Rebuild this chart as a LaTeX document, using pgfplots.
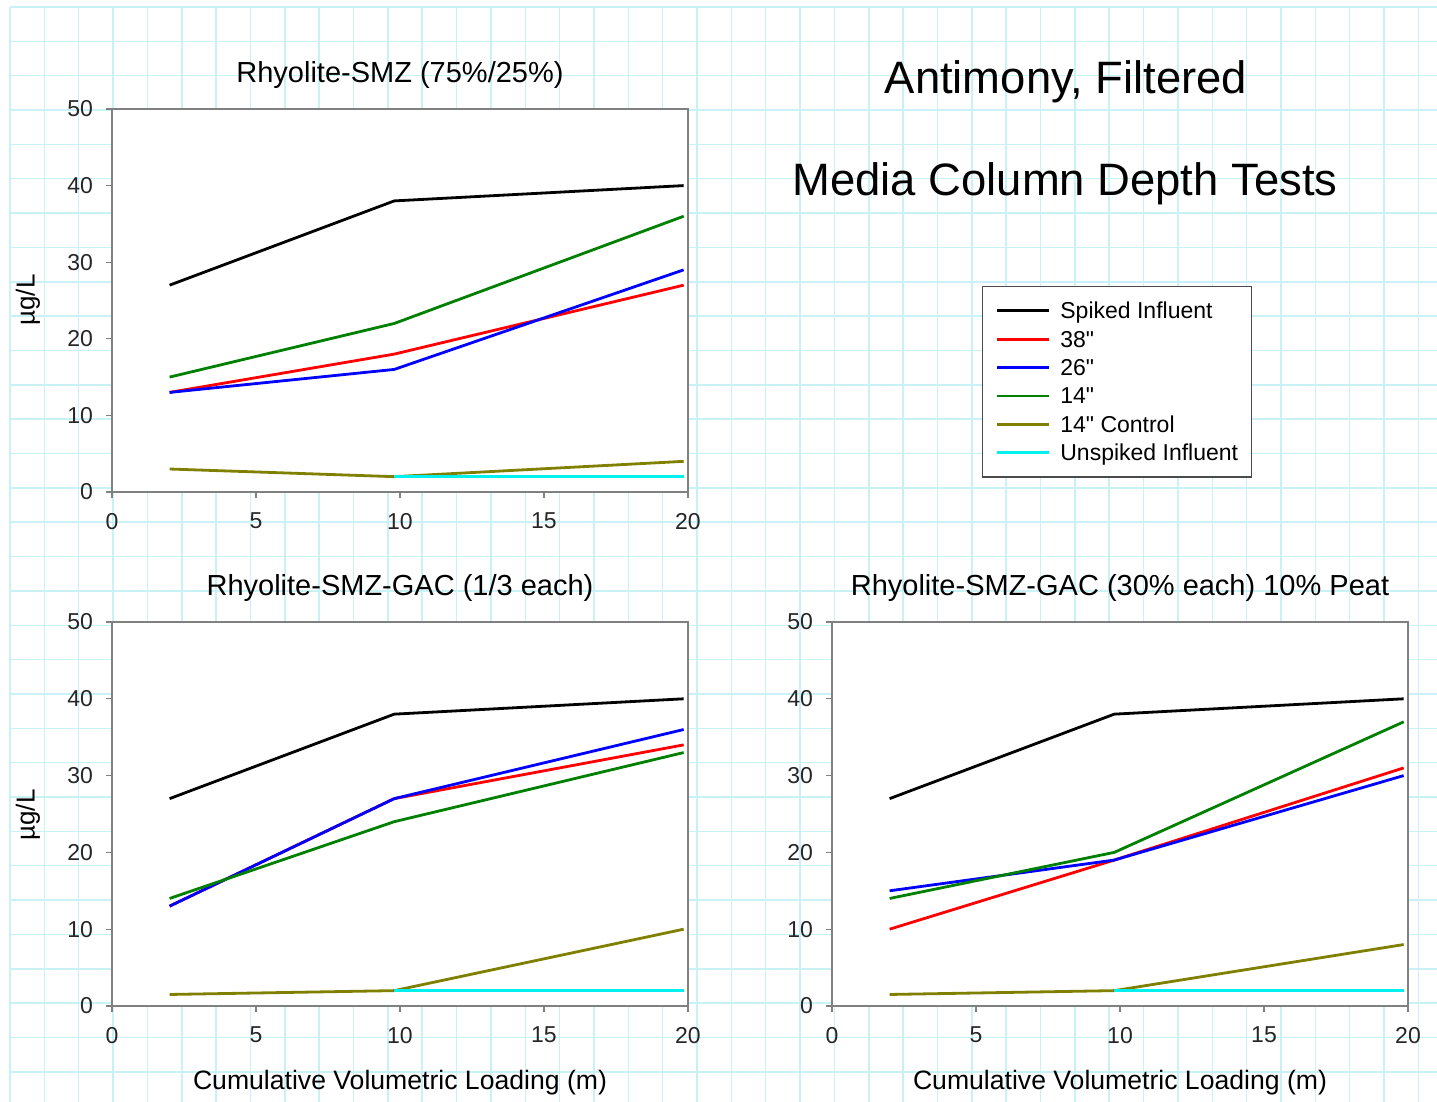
\documentclass[border=0pt]{standalone}
\usepackage{fontspec}
\setmainfont{Liberation Sans}[Ligatures=TeXOff]
\usepackage{pgfplots}
\pgfplotsset{compat=1.18}
\definecolor{gridc}{HTML}{C8F2F6}
\definecolor{olivec}{HTML}{808000}
\definecolor{cyanc}{HTML}{00F0F0}
\definecolor{greenc}{HTML}{008000}
\definecolor{framec}{HTML}{808080}
\pgfplotsset{
 panel/.style={
   scale only axis, width=288pt, height=192pt,
   xmin=0, xmax=20, ymin=0, ymax=50,
   xtick={0,5,10,15,20}, ytick={0,10,20,30,40,50},
   tick align=outside, xtick pos=bottom, ytick pos=left,
   major tick length=3pt,
   axis line style={framec, line width=0.6pt},
   tick style={framec, line width=0.6pt},
   axis background/.style={fill=white},
   ticklabel style={font=\fontsize{11.5}{13}\selectfont, text=black!85},
   /pgf/number format/assume math mode=true,
   xticklabel style={yshift=-4pt},
   yticklabel style={xshift=-3pt},
   every axis plot/.append style={line width=1.4pt, mark=none},
 }
}
\begin{document}
\begin{tikzpicture}
\useasboundingbox (0pt,0pt) rectangle (718.5pt,551pt);
\begin{scope}[x=0.5pt,y=0.5pt]
\foreach \i in {0,...,41} { \draw[gridc, line width=0.75pt] ({10+34.35*\i},0) -- ({10+34.35*\i},1095); }
\foreach \k in {0,...,31} { \draw[gridc, line width=0.75pt] (10,{1095-34.35*\k}) -- (1437,{1095-34.35*\k}); }
\end{scope}

% top panel
\begin{axis}[panel, at={(56pt,305pt)}, anchor=south west, height=191.5pt,
  legend style={at={(axis description cs:1.5104,0.5379)}, anchor=north west,
    draw=black!70, line width=0.6pt, fill=white,
    font=\fontsize{11.5}{13}\selectfont,
    inner xsep=6.5pt, inner ysep=5pt, row sep=0pt,
    nodes={inner sep=0pt, text height=11.1pt, text depth=3.1pt},
    /tikz/every odd column/.append style={column sep=5pt}},
  legend cell align=left,
  legend image code/.code={\draw[#1, line width=1.4pt] (0pt,0pt) -- (26pt,0pt);}]
\addplot[black] coordinates {(2,27) (9.8,38) (19.85,40)};
\addlegendentry{Spiked Influent}
\addplot[red] coordinates {(2,13) (9.8,18) (19.85,27)};
\addlegendentry{38"}
\addplot[blue] coordinates {(2,13) (9.8,16) (19.85,29)};
\addlegendentry{26"}
\addplot[greenc] coordinates {(2,15) (9.8,22) (19.85,36)};
\addlegendentry{14"}
\addplot[olivec] coordinates {(2,3) (9.8,2) (19.85,4)};
\addlegendentry{14" Control}
\addplot[cyanc] coordinates {(9.8,2) (19.85,2)};
\addlegendentry{Unspiked Influent}
\end{axis}

% bottom left
\begin{axis}[panel, at={(56pt,48pt)}, anchor=south west]
\addplot[black] coordinates {(2,27) (9.8,38) (19.85,40)};
\addplot[red] coordinates {(2,13) (9.8,27) (19.85,34)};
\addplot[blue] coordinates {(2,13) (9.8,27) (19.85,36)};
\addplot[greenc] coordinates {(2,14) (9.8,24) (19.85,33)};
\addplot[olivec] coordinates {(2,1.5) (9.8,2) (19.85,10)};
\addplot[cyanc] coordinates {(9.8,2) (19.85,2)};
\end{axis}

% bottom right
\begin{axis}[panel, at={(416pt,48pt)}, anchor=south west]
\addplot[black] coordinates {(2,27) (9.8,38) (19.85,40)};
\addplot[red] coordinates {(2,10) (9.8,19) (19.85,31)};
\addplot[blue] coordinates {(2,15) (9.8,19) (19.85,30)};
\addplot[greenc] coordinates {(2,14) (9.8,20) (19.85,37)};
\addplot[olivec] coordinates {(2,1.5) (9.8,2) (19.85,8)};
\addplot[cyanc] coordinates {(9.8,2) (19.85,2)};
\end{axis}

\begin{scope}[x=0.5pt,y=0.5pt]
\node at (400,1027) {\fontsize{14.5}{17}\selectfont Rhyolite-SMZ (75\%/25\%)};
\node at (400,514) {\fontsize{14.5}{17}\selectfont Rhyolite-SMZ-GAC (1/3 each)};
\node at (1120,514) {\fontsize{14.5}{17}\selectfont Rhyolite-SMZ-GAC (30\% each) 10\% Peat};
\node at (1066,1020) {\fontsize{22.7}{26}\selectfont Antimony, Filtered};
\node at (1065,918) {\fontsize{22.7}{26}\selectfont Media Column Depth Tests};
\node[rotate=90] at (28,802) {\fontsize{13}{15}\selectfont µg/L};
\node[rotate=90] at (28,287) {\fontsize{13}{15}\selectfont µg/L};
\node at (400,19) {\fontsize{13.3}{15}\selectfont Cumulative Volumetric Loading (m)};
\node at (1120,19) {\fontsize{13.3}{15}\selectfont Cumulative Volumetric Loading (m)};
\end{scope}
\end{tikzpicture}
\end{document}
